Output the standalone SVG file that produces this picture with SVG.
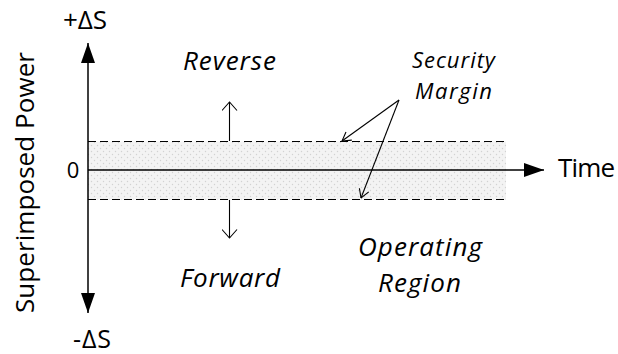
<svg xmlns="http://www.w3.org/2000/svg" width="618" height="354" viewBox="0 0 618 354">
<style>
text{font-family:"Open Sans","Liberation Sans",sans-serif;fill:#000}
.it{font-style:italic}
.big{font-size:26px}
.ax{stroke:#000;stroke-width:1.5;fill:none}
.dash{stroke:#000;stroke-width:1.2;stroke-dasharray:8 4;fill:none}
.thin{stroke:#000;stroke-width:1.1;fill:none}
</style>
<defs>
<pattern id="dots" width="6" height="6" patternUnits="userSpaceOnUse">
<rect width="6" height="6" fill="#f3f3f3"/>
<circle cx="1.5" cy="1.5" r="0.7" fill="#d2d2d2"/>
<circle cx="4.5" cy="4.5" r="0.7" fill="#d2d2d2"/>
</pattern>
<marker id="solid" viewBox="0 0 20 14" refX="20" refY="7" markerWidth="20" markerHeight="14" markerUnits="userSpaceOnUse" orient="auto">
<path d="M0,0 L20,7 L0,14 Z" fill="#000"/>
</marker>
<marker id="open" viewBox="0 0 10 16" refX="9" refY="8" markerWidth="10" markerHeight="16" markerUnits="userSpaceOnUse" orient="auto">
<path d="M0.5,0.5 L9,8 L0.5,15.5" fill="none" stroke="#000" stroke-width="1.1"/>
</marker>
<marker id="opensm" viewBox="0 0 10 12" refX="9.5" refY="6" markerWidth="10" markerHeight="12" markerUnits="userSpaceOnUse" orient="auto">
<path d="M1,1 L9.5,6 L1,11" fill="none" stroke="#000" stroke-width="1.1"/>
</marker>
</defs>

<g id="band">
<rect x="88" y="141.5" width="418" height="58" fill="url(#dots)"/>
</g>

<g id="connectors">
<line class="ax" x1="88" y1="170" x2="88" y2="43" marker-end="url(#solid)"/>
<line class="ax" x1="88" y1="170" x2="88" y2="313" marker-end="url(#solid)"/>
<line class="ax" x1="88" y1="170" x2="544" y2="170" marker-end="url(#solid)"/>
<line class="dash" x1="88" y1="141.5" x2="506" y2="141.5"/>
<line class="dash" x1="88" y1="199.5" x2="506" y2="199.5"/>
<line class="thin" x1="229.5" y1="141" x2="229.5" y2="102" marker-end="url(#open)"/>
<line class="thin" x1="229.5" y1="200" x2="229.5" y2="238" marker-end="url(#open)"/>
<line class="thin" x1="399" y1="100" x2="342" y2="141" marker-end="url(#opensm)"/>
<line class="thin" x1="399" y1="100" x2="361" y2="198" marker-end="url(#opensm)"/>
</g>

<g id="labels">
<text class="big" x="63" y="29" textLength="44" lengthAdjust="spacing">+ΔS</text>
<text x="73" y="348" font-size="25" textLength="38" lengthAdjust="spacing">-ΔS</text>
<text x="73" y="178" font-size="22" text-anchor="middle">0</text>
<text class="big" x="558" y="177" textLength="57" lengthAdjust="spacing">Time</text>
<text class="big" transform="translate(34,313) rotate(-90)" textLength="261" lengthAdjust="spacing">Superimposed Power</text>
<text class="it big" x="183" y="70" textLength="93" lengthAdjust="spacing">Reverse</text>
<text class="it big" x="180" y="287" textLength="100" lengthAdjust="spacing">Forward</text>
<text class="it" x="412" y="68" font-size="22" textLength="83" lengthAdjust="spacing">Security</text>
<text class="it" x="415" y="99" font-size="22" textLength="77" lengthAdjust="spacing">Margin</text>
<text class="it big" x="358" y="256" textLength="124" lengthAdjust="spacing">Operating</text>
<text class="it big" x="378" y="292" textLength="83" lengthAdjust="spacing">Region</text>
</g>
</svg>
